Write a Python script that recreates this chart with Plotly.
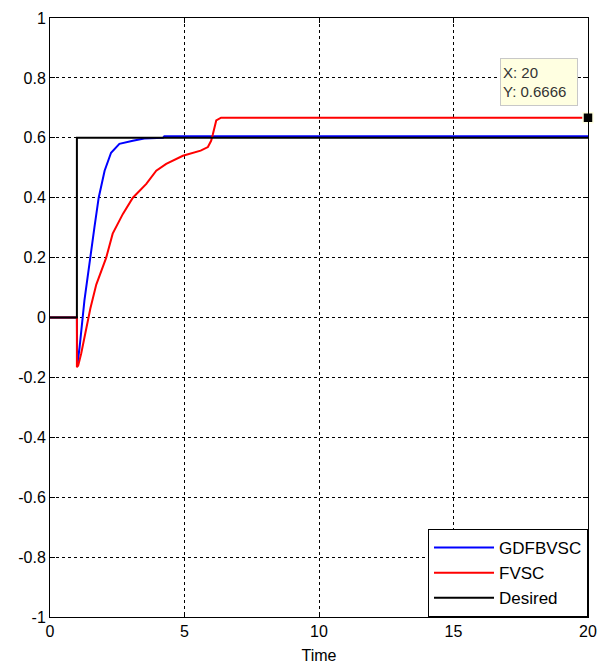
import plotly.graph_objects as go

# GDFBVSC (blue)
t_gdf = [0, 1, 1.01, 1.1, 1.28, 1.47, 1.65, 1.81, 2.03, 2.27, 2.58, 3.08, 3.5, 4.2, 4.25, 20]
y_gdf = [0, 0, -0.165, -0.1, 0.057, 0.19, 0.30, 0.40, 0.49, 0.55, 0.58, 0.59, 0.598, 0.6, 0.605, 0.605]

# FVSC (red)
t_fvsc = [0, 1, 1.0, 1.05, 1.16, 1.35, 1.5, 1.72, 2.09, 2.33, 2.71, 3.08, 3.58, 3.95, 4.32,
          4.94, 5.43, 5.6, 5.87, 5.99, 6.05, 6.18, 6.36, 20]
y_fvsc = [0, 0, -0.166, -0.16, -0.12, -0.032, 0.03, 0.11, 0.20, 0.28, 0.346, 0.40, 0.446, 0.49, 0.513,
          0.54, 0.552, 0.557, 0.569, 0.59, 0.61, 0.658, 0.667, 0.6666]

# Desired (black)
t_des = [0, 1, 1, 20]
y_des = [0, 0, 0.6, 0.6]

# data tip
tip_x = [20]
tip_y = [0.6666]

x_ticks = [0, 5, 10, 15, 20]
y_ticks = [1, 0.8, 0.6, 0.4, 0.2, 0, -0.2, -0.4, -0.6, -0.8, -1]
y_tick_text = ["1", "0.8", "0.6", "0.4", "0.2", "0", "-0.2", "-0.4", "-0.6", "-0.8", "-1"]

FONT = "Arial, Liberation Sans, sans-serif"

fig = go.Figure()
fig.add_trace(go.Scatter(x=t_gdf, y=y_gdf, mode="lines", name="GDFBVSC",
                         line=dict(color="#0000ff", width=2)))
fig.add_trace(go.Scatter(x=t_fvsc, y=y_fvsc, mode="lines", name="FVSC",
                         line=dict(color="#ff0000", width=2)))
fig.add_trace(go.Scatter(x=t_des, y=y_des, mode="lines", name="Desired",
                         line=dict(color="#000000", width=2)))
fig.add_trace(go.Scatter(x=tip_x, y=tip_y, mode="markers", showlegend=False,
                         cliponaxis=False,
                         marker=dict(symbol="square", size=10, color="black",
                                     line=dict(color="#ffffe1", width=1.5))))

fig.add_annotation(x=16.72, y=0.865, xref="x", yref="y", xanchor="left", yanchor="top",
                   text="X: 20<br>Y: 0.6666", showarrow=False, align="left",
                   width=72, height=42,
                   font=dict(family=FONT, size=15, color="#333333"),
                   bgcolor="#ffffe1", bordercolor="#c8c8c8", borderwidth=1, borderpad=2)

axis_common = dict(showline=True, linecolor="black", linewidth=1, mirror="allticks",
                   ticks="inside", ticklen=5, tickcolor="black",
                   showgrid=True, gridcolor="black", gridwidth=1, griddash="3px,3px",
                   zeroline=False, automargin=False,
                   tickfont=dict(family=FONT, size=16, color="black"))

fig.update_xaxes(range=[0, 20], tickvals=x_ticks,
                 title=dict(text="Time", font=dict(family=FONT, size=16, color="black"), standoff=10),
                 **axis_common)
fig.update_yaxes(range=[-1, 1], tickvals=y_ticks, ticktext=y_tick_text, **axis_common)

fig.update_layout(
    width=602, height=664,
    margin=dict(l=50, r=14, t=18, b=47),
    paper_bgcolor="white", plot_bgcolor="white",
    font=dict(family=FONT, size=16, color="black"),
    legend=dict(x=1, y=0, xanchor="right", yanchor="bottom",
                bordercolor="black", borderwidth=1, bgcolor="white",
                font=dict(family=FONT, size=17, color="black"),
                itemwidth=60, tracegroupgap=0),
)

fig.write_html("out.html", config={"displayModeBar": False},
               post_script="document.body.style.margin='0';document.body.style.padding='0';")
